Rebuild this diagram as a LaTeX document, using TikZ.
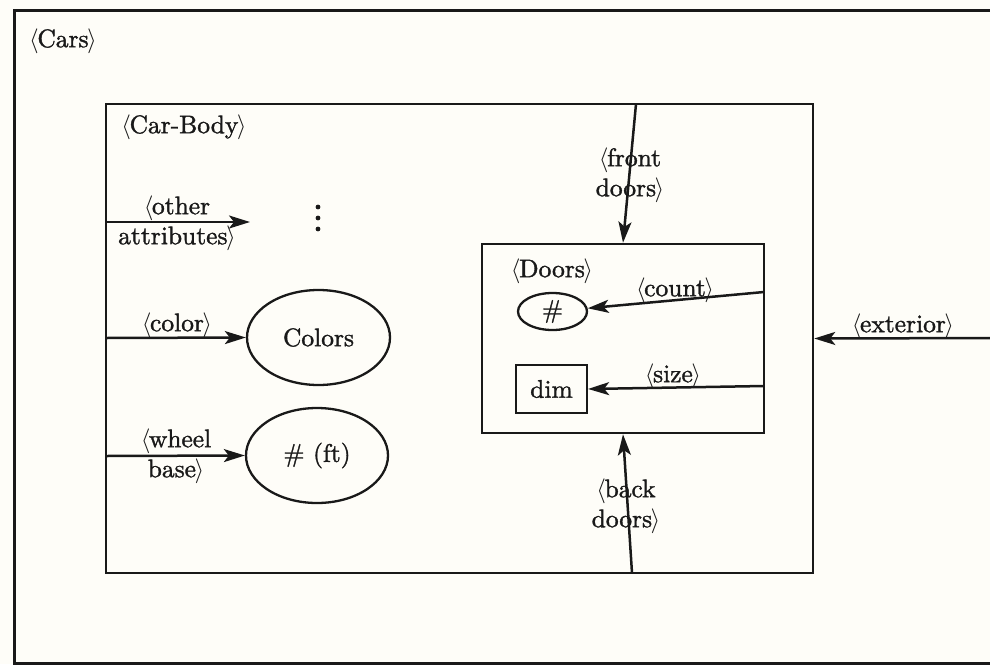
\documentclass[tikz,border=0pt]{standalone}
\usepackage{fontspec}
\setmainfont{lmroman10-regular}[Extension=.otf, FakeBold=1.3]
\usetikzlibrary{arrows.meta,shapes.geometric}
\definecolor{bgcream}{RGB}{254,253,248}
\definecolor{ink}{RGB}{25,25,25}
\newcommand\lan{$\langle$\kern-1.5pt}
\newcommand\ran{\kern-1.5pt$\rangle$}
\begin{document}
\begin{tikzpicture}[x=1pt,y=-1pt,
  every node/.style={font=\fontsize{25.5}{30}\selectfont, inner sep=0pt, text=ink},
  box/.style={draw=ink, line width=2.5pt, rectangle, inner sep=0pt},
  oval/.style={draw=ink, line width=2.3pt, ellipse, inner sep=0pt},
  arr/.style={draw=ink, line width=2.5pt, -{Stealth[length=21pt,width=13pt,inset=5pt]}},
  lbl/.style={align=center}]
\fill[bgcream] (0,0) rectangle (990,664);
\useasboundingbox (0,0) rectangle (990,664);
\clip (0,0) rectangle (990,664);

% boxes
\node[box, minimum width=1100pt, minimum height=653pt, anchor=north west] (cars) at (13,9) {};
\node[box, minimum width=707pt, minimum height=469pt] (body) at (459.5,338.5) {};
\node[box, minimum width=282pt, minimum height=189pt] (doors) at (623,338.5) {};

% titles
\node (tcars) at (63,41) {\lan Cars\ran};
\node (tbody) at (184,127) {\lan Car-Body\ran};
\node (tdoors) at (552,271) {\lan Doors\ran};

% value nodes
\node[oval, minimum width=143pt, minimum height=95pt] (colors) at (318.5,337.5) {Colors};
\node[oval, minimum width=142pt, minimum height=95pt] (ft) at (317,455.5) {\# (ft)};
\node[oval, minimum width=69pt, minimum height=37pt] (num) at (552.5,311.5) {\#};
\node[box, line width=2.3pt, minimum width=71pt, minimum height=48pt] (dim) at (551.5,389) {dim};

% vertical dots
\fill[ink] (318,207) circle (2.4pt);
\fill[ink] (318,218) circle (2.4pt);
\fill[ink] (318,229) circle (2.4pt);

% connector end points
\coordinate (oa) at (106,222);
\coordinate (oaend) at (250,222);
\coordinate (cl) at (106,338);
\coordinate (wb) at (106,456);
\coordinate (extin) at (1000,338);
\coordinate (fdtop) at (636,104);
\coordinate (bdbot) at (632,573);
\coordinate (cnt) at (764,292);
\coordinate (sz) at (764,386);

% connectors
\draw[arr] (oa) -- (oaend);
\draw[arr] (cl) -- (colors.west);
\draw[arr] (wb) -- (ft.west);
\draw[arr] (extin) -- (body.east);
\draw[arr] (fdtop) -- (doors.north);
\draw[arr] (bdbot) -- (doors.south);
\draw[arr] (cnt) -- (num);
\draw[arr] (sz) -- (dim.east);

% connector labels
\node[lbl] (loa) at (177,223) {\lan other\\attributes\ran};
\node (lcl) at (177,325) {\lan color\ran};
\node[lbl] (lwb) at (176,456) {\lan wheel\\base\ran};
\node (lext) at (903,326) {\lan exterior\ran};
\node[lbl] (lfd) at (630,175) {\lan front\\doors\ran};
\node[lbl] (lbd) at (626,506) {\lan back\\doors\ran};
\node (lcnt) at (675,290) {\lan count\ran};
\node (lsz) at (673,376) {\lan size\ran};
\end{tikzpicture}
\end{document}
